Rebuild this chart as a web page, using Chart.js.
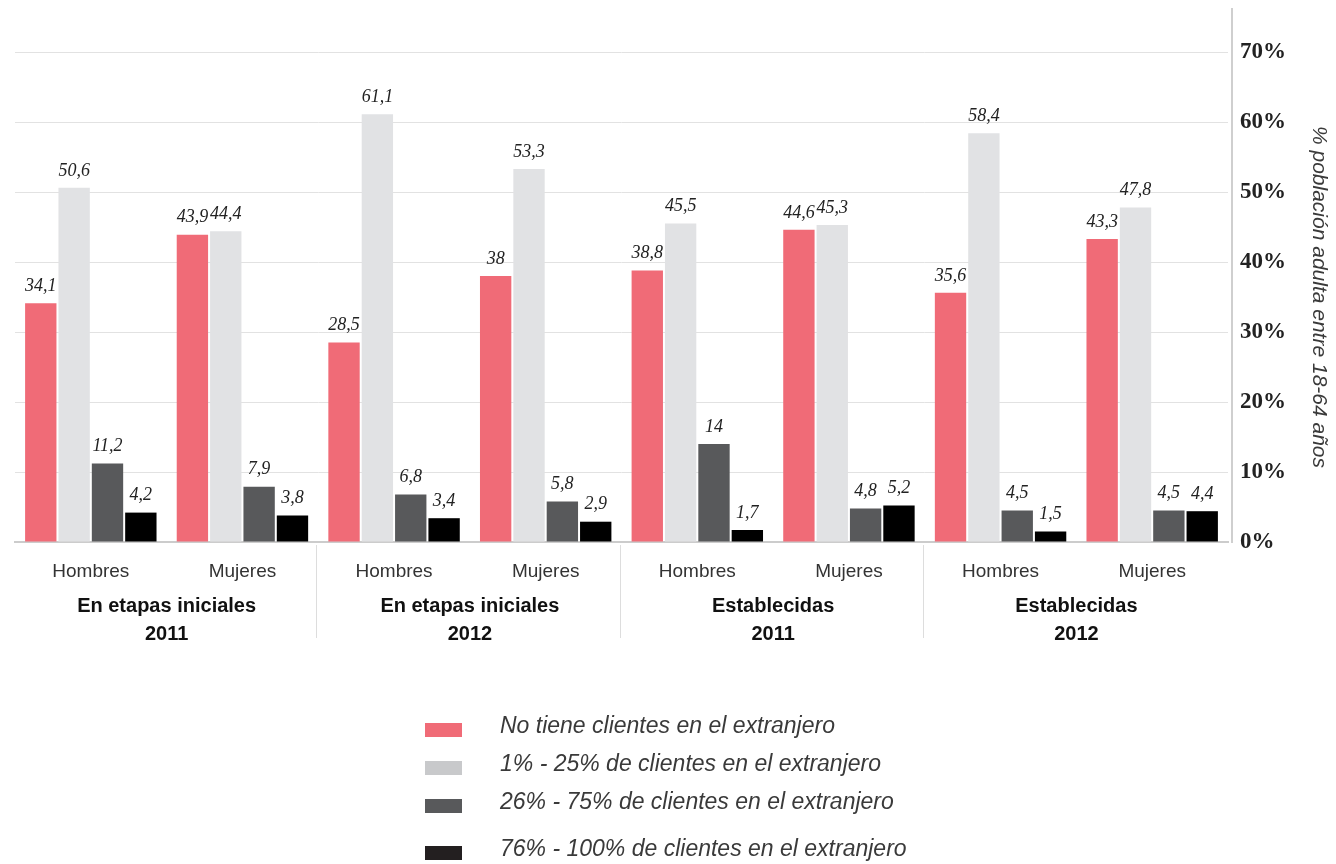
<!DOCTYPE html>
<html>
<head>
<meta charset="utf-8">
<script src="https://cdn.jsdelivr.net/npm/chart.js@4.4.1/dist/chart.umd.min.js"></script>
<style>
  html, body { margin: 0; padding: 0; background: #fff; }
</style>
</head>
<body>
<canvas id="chart" width="1336" height="864"></canvas>
<script>
// categories
var categories = ["Hombres", "Mujeres", "Hombres", "Mujeres", "Hombres", "Mujeres", "Hombres", "Mujeres"];
var groups = [["En etapas iniciales", "2011"], ["En etapas iniciales", "2012"], ["Establecidas", "2011"], ["Establecidas", "2012"]];

// series
var seriesNames = [
    "No tiene clientes en el extranjero",
    "1% - 25% de clientes en el extranjero",
    "26% - 75% de clientes en el extranjero",
    "76% - 100% de clientes en el extranjero"
];
var noClientes = [34.1, 43.9, 28.5, 38, 38.8, 44.6, 35.6, 43.3];
var de1a25 = [50.6, 44.4, 61.1, 53.3, 45.5, 45.3, 58.4, 47.8];
var de26a75 = [11.2, 7.9, 6.8, 5.8, 14, 4.8, 4.5, 4.5];
var de76a100 = [4.2, 3.8, 3.4, 2.9, 1.7, 5.2, 1.5, 4.4];

// y ticks
var yMin = 0, yMax = 70, yStep = 10;

var barColors = ["#F06B77", "#E1E2E4", "#58595B", "#000000"];
var legendColors = ["#F06B77", "#C8C9CB", "#58595B", "#231F20"];

var SANS = "'Liberation Sans', Arial, sans-serif";
var SERIF = "'Liberation Serif', 'Times New Roman', serif";

var extras = {
    id: "extras",
    afterDatasetsDraw: function (chart) {
        var ctx = chart.ctx;
        ctx.save();
        ctx.font = "italic 18px " + SERIF;
        ctx.fillStyle = "#222";
        ctx.textAlign = "center";
        ctx.textBaseline = "bottom";
        chart.data.datasets.forEach(function (ds, i) {
            chart.getDatasetMeta(i).data.forEach(function (bar, j) {
                ctx.fillText(String(ds.data[j]).replace(".", ","), bar.x, bar.y - 8);
            });
        });
        ctx.restore();
    },
    afterDraw: function (chart) {
        var ctx = chart.ctx;
        var area = chart.chartArea;
        var x = chart.scales.x;
        ctx.save();

        // right axis line
        ctx.strokeStyle = "#cfcfcf";
        ctx.lineWidth = 2;
        ctx.beginPath();
        ctx.moveTo(area.right + 4, 8);
        ctx.lineTo(area.right + 4, area.bottom + 1);
        ctx.stroke();

        // group separators
        ctx.strokeStyle = "#dddddd";
        ctx.lineWidth = 1;
        for (var k = 1; k < groups.length; k++) {
            var sx = Math.round((x.getPixelForValue(k * 2 - 1) + x.getPixelForValue(k * 2)) / 2) - 1.5;
            ctx.beginPath();
            ctx.moveTo(sx, area.bottom + 3);
            ctx.lineTo(sx, area.bottom + 96);
            ctx.stroke();
        }

        // group labels
        ctx.font = "bold 20px " + SANS;
        ctx.fillStyle = "#111";
        ctx.textAlign = "center";
        ctx.textBaseline = "middle";
        groups.forEach(function (g, k) {
            var gx = (x.getPixelForValue(k * 2) + x.getPixelForValue(k * 2 + 1)) / 2;
            ctx.fillText(g[0], gx, area.bottom + 64);
            ctx.fillText(g[1], gx, area.bottom + 92);
        });

        // legend
        var rows = [730, 768, 806, 853];
        ctx.font = "italic 23px " + SANS;
        ctx.textAlign = "left";
        seriesNames.forEach(function (name, i) {
            ctx.fillStyle = legendColors[i];
            ctx.fillRect(425, rows[i] - 7, 37, 14);
            ctx.fillStyle = "#3a3a3a";
            ctx.fillText(name, 500, rows[i] - 3);
        });
        ctx.restore();
    }
};

new Chart(document.getElementById("chart"), {
    type: "bar",
    data: {
        labels: categories,
        datasets: [
            { label: seriesNames[0], data: noClientes, backgroundColor: barColors[0] },
            { label: seriesNames[1], data: de1a25, backgroundColor: barColors[1] },
            { label: seriesNames[2], data: de26a75, backgroundColor: barColors[2] },
            { label: seriesNames[3], data: de76a100, backgroundColor: barColors[3] }
        ]
    },
    plugins: [extras],
    options: {
        responsive: false,
        animation: false,
        devicePixelRatio: 1,
        categoryPercentage: 0.88,
        barPercentage: 0.94,
        layout: { padding: { top: 52, left: 15, right: 0, bottom: 0 } },
        plugins: {
            legend: { display: false },
            tooltip: { enabled: false }
        },
        scales: {
            x: {
                grid: { display: false },
                border: { display: true, color: "#cccccc", width: 2 },
                ticks: {
                    color: "#333",
                    font: { family: SANS, size: 19 },
                    padding: 10,
                    maxRotation: 0
                },
                afterFit: function (scale) { scale.height = 322; }
            },
            y: {
                position: "right",
                min: yMin,
                max: yMax,
                ticks: {
                    stepSize: yStep,
                    padding: 12,
                    color: "#222",
                    font: { family: SERIF, size: 23, weight: "bold" },
                    callback: function (v) { return v + "%"; }
                },
                grid: { color: "#e2e2e2", lineWidth: 1, drawTicks: false },
                border: { display: false },
                title: {
                    display: true,
                    text: "% población adulta entre 18-64 años",
                    color: "#3a3a3a",
                    font: { family: SANS, size: 21, style: "italic" },
                    padding: { top: 5, bottom: 0 }
                },
                afterFit: function (scale) { scale.width = 108; }
            }
        }
    }
});
</script>
</body>
</html>
